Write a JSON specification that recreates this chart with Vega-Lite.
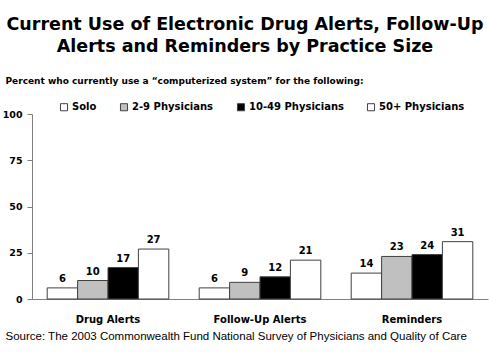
{
  "$schema": "https://vega.github.io/schema/vega-lite/v6.json",
  "autosize": "none",
  "width": 456,
  "height": 185,
  "padding": {"left": 32, "top": 114, "right": 1, "bottom": 53},
  "background": "white",
  "title": {
    "text": ["Current Use of Electronic Drug Alerts, Follow-Up", "Alerts and Reminders by Practice Size"],
    "font": "DejaVu Sans",
    "fontSize": 17.5,
    "fontWeight": "bold",
    "color": "black",
    "lineHeight": 22,
    "anchor": "middle",
    "frame": "group",
    "dx": -15,
    "offset": 21
  },
  "data": {
    "values": [
      {"measure": "Drug Alerts", "size": "Solo", "pct": 6},
      {"measure": "Drug Alerts", "size": "2-9 Physicians", "pct": 10},
      {"measure": "Drug Alerts", "size": "10-49 Physicians", "pct": 17},
      {"measure": "Drug Alerts", "size": "50+ Physicians", "pct": 27},
      {"measure": "Follow-Up Alerts", "size": "Solo", "pct": 6},
      {"measure": "Follow-Up Alerts", "size": "2-9 Physicians", "pct": 9},
      {"measure": "Follow-Up Alerts", "size": "10-49 Physicians", "pct": 12},
      {"measure": "Follow-Up Alerts", "size": "50+ Physicians", "pct": 21},
      {"measure": "Reminders", "size": "Solo", "pct": 14},
      {"measure": "Reminders", "size": "2-9 Physicians", "pct": 23},
      {"measure": "Reminders", "size": "10-49 Physicians", "pct": 24},
      {"measure": "Reminders", "size": "50+ Physicians", "pct": 31}
    ]
  },
  "encoding": {
    "x": {
      "field": "measure",
      "type": "nominal",
      "sort": ["Drug Alerts", "Follow-Up Alerts", "Reminders"],
      "scale": {"paddingInner": 0.2, "paddingOuter": 0.1},
      "axis": {
        "title": "Source: The 2003 Commonwealth Fund National Survey of Physicians and Quality of Care",
        "titleFont": "Liberation Sans",
        "titleFontSize": 11.5,
        "titleFontWeight": "normal",
        "titleColor": "black",
        "titleAnchor": "start",
        "titleAlign": "left",
        "titleBaseline": "alphabetic",
        "titleX": -27,
        "titleY": 40,
        "labelAngle": 0,
        "labelFont": "DejaVu Sans",
        "labelFontSize": 10,
        "labelFontWeight": "bold",
        "labelColor": "black",
        "labelPadding": 15,
        "ticks": false,
        "domainColor": "#808080"
      }
    },
    "xOffset": {
      "field": "size",
      "type": "nominal",
      "sort": ["Solo", "2-9 Physicians", "10-49 Physicians", "50+ Physicians"],
      "scale": {"paddingInner": 0, "paddingOuter": 0}
    },
    "y": {
      "field": "pct",
      "type": "quantitative",
      "scale": {"domain": [0, 100], "nice": false},
      "axis": {
        "values": [0, 25, 50, 75, 100],
        "grid": false,
        "title": "Percent who currently use a \u201ccomputerized system\u201d for the following:",
        "titleFont": "DejaVu Sans",
        "titleFontSize": 9,
        "titleFontWeight": "bold",
        "titleColor": "black",
        "titleAngle": 0,
        "titleAlign": "left",
        "titleBaseline": "alphabetic",
        "titleX": -27,
        "titleY": -31,
        "labelFont": "DejaVu Sans",
        "labelFontSize": 9.5,
        "labelFontWeight": "bold",
        "labelColor": "black",
        "labelPadding": 5,
        "tickSize": 5,
        "tickColor": "#808080",
        "domainColor": "#808080"
      }
    }
  },
  "layer": [
    {
      "mark": {"type": "bar", "stroke": "#404040", "strokeWidth": 1},
      "encoding": {
        "fill": {
          "field": "size",
          "type": "nominal",
          "sort": ["Solo", "2-9 Physicians", "10-49 Physicians", "50+ Physicians"],
          "scale": {
            "domain": ["Solo", "2-9 Physicians", "10-49 Physicians", "50+ Physicians"],
            "range": ["#ffffff", "#c0c0c0", "#000000", "#ffffff"]
          },
          "legend": {
            "title": null,
            "orient": "none",
            "direction": "horizontal",
            "legendX": 27,
            "legendY": -12,
            "padding": 0,
            "symbolType": "square",
            "symbolSize": 50,
            "symbolStrokeColor": "#404040",
            "symbolStrokeWidth": 1,
            "symbolOpacity": 1,
            "labelFont": "DejaVu Sans",
            "labelFontSize": 10,
            "labelFontWeight": "bold",
            "labelColor": "black",
            "labelOffset": 3,
            "columnPadding": 21
          }
        }
      }
    },
    {
      "mark": {
        "type": "text",
        "baseline": "bottom",
        "dy": -4,
        "font": "DejaVu Sans",
        "fontSize": 10,
        "fontWeight": "bold",
        "color": "black"
      },
      "encoding": {"text": {"field": "pct", "type": "quantitative"}}
    }
  ],
  "config": {"view": {"stroke": null}}
}
